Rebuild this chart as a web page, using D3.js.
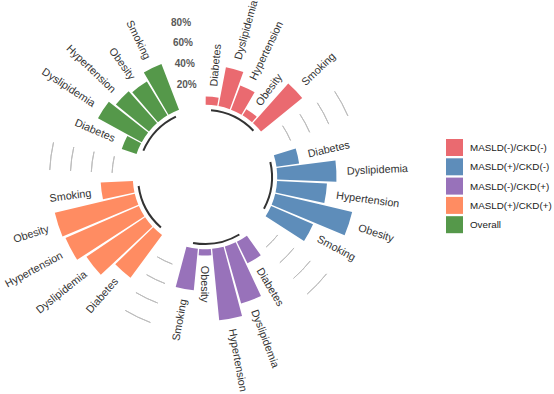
<!DOCTYPE html>
<meta charset="utf-8">
<title>Circular barplot</title>
<script src="https://d3js.org/d3.v7.min.js"></script>
<style>
    body { margin: 0; background: #fff; }
    text { font-family: "Liberation Sans", Arial, sans-serif; }
</style>
<body>
<div id="chart"></div>
<script>
    // groups (legend order) and the risk factors inside each group
    var groups = ["MASLD(-)/CKD(-)", "MASLD(+)/CKD(-)", "MASLD(-)/CKD(+)", "MASLD(+)/CKD(+)", "Overall"];
    var factors = ["Diabetes", "Dyslipidemia", "Hypertension", "Obesity", "Smoking"];
    var colors = ["#EA6A70", "#5E8DBA", "#9872BA", "#FF8C62", "#55984A"];

    // prevalence (%) per factor, one array per group
    var negNeg = [8, 38, 25, 7, 51];
    var posNeg = [22, 57, 48, 76, 44];
    var negPos = [23, 57, 69, 6, 40];
    var posPos = [51, 68, 77, 79, 31];
    var overall = [15, 48, 41, 38, 47];
    var values = [negNeg, posNeg, negPos, posPos, overall];

    var gridTicks = [20, 40, 60, 80];
    var emptyBar = 2;

    var width = 554, height = 394;
    var cx = 205, cy = 177;

    var svg = d3.select("#chart")
        .append("svg")
        .attr("width", width)
        .attr("height", height);

    var g = svg.append("g")
        .attr("transform", "translate(" + cx + "," + cy + ")");

    // build rows with ids, leaving empty slots after each group
    var data = [];
    var base = [];
    var id = 1;
    groups.forEach(function(grp, gi) {
        var start = id;
        factors.forEach(function(f, fi) {
            data.push({id: id, group: gi, name: f, value: values[gi][fi]});
            id++;
        });
        base.push({group: gi, start: start, end: id - 1});
        id += emptyBar;
    });
    var N = id - 1;

    var theta = d3.scaleLinear().domain([0.5, N + 0.5]).range([0, 2 * Math.PI]);
    var r = d3.scaleLinear().domain([0, 100]).range([72.2, 176.2]);

    // grid segments in the gaps (none between last and first group)
    var grid = [];
    for (var i = 1; i < base.length; i++) {
        gridTicks.forEach(function(t) {
            grid.push({from: base[i - 1].end + 1, to: base[i].start - 1, v: t});
        });
    }
    var segArc = d3.arc();
    g.selectAll(".grid")
        .data(grid)
        .enter()
        .append("path")
        .attr("d", function(d) {
            return segArc({innerRadius: r(d.v), outerRadius: r(d.v),
                startAngle: theta(d.from), endAngle: theta(d.to)});
        })
        .style("fill", "none")
        .style("stroke", "#bdbdbd")
        .style("stroke-width", 1);

    // bars
    var barArc = d3.arc();
    g.selectAll(".bar")
        .data(data)
        .enter()
        .append("path")
        .attr("d", function(d) {
            return barArc({innerRadius: r(0), outerRadius: r(d.value),
                startAngle: theta(d.id - 0.45), endAngle: theta(d.id + 0.45)});
        })
        .style("fill", function(d) { return colors[d.group]; });

    // base line under each group
    g.selectAll(".base")
        .data(base)
        .enter()
        .append("path")
        .attr("d", function(d) {
            return segArc({innerRadius: r(-5), outerRadius: r(-5),
                startAngle: theta(d.start), endAngle: theta(d.end)});
        })
        .style("fill", "none")
        .style("stroke", "#333")
        .style("stroke-width", 2);

    // factor labels
    g.selectAll(".label")
        .data(data)
        .enter()
        .append("text")
        .attr("transform", function(d) {
            var a = theta(d.id), rr = r(d.value + 10);
            var deg = a * 180 / Math.PI;
            var rot = deg > 180 ? deg - 270 : deg - 90;
            return "translate(" + (rr * Math.sin(a)) + "," + (-rr * Math.cos(a)) + ") rotate(" + rot + ")";
        })
        .attr("text-anchor", function(d) { return theta(d.id) * 180 / Math.PI > 180 ? "end" : "start"; })
        .attr("dominant-baseline", "central")
        .style("font-size", "10.8px")
        .style("fill", "#333")
        .text(function(d) { return d.name; });

    // value labels of the grid
    g.selectAll(".tick")
        .data(gridTicks)
        .enter()
        .append("text")
        .attr("x", function(d) { return r(d) * Math.sin(theta(N)); })
        .attr("y", function(d) { return -r(d) * Math.cos(theta(N)); })
        .attr("text-anchor", "end")
        .attr("dominant-baseline", "central")
        .style("font-size", "10px")
        .style("font-weight", "bold")
        .style("fill", "#595959")
        .text(function(d) { return d + "%"; });

    // legend
    var legend = svg.append("g")
        .attr("transform", "translate(446,139)");
    var item = legend.selectAll(".item")
        .data(groups)
        .enter()
        .append("g")
        .attr("transform", function(d, i) { return "translate(0," + (i * 19.3) + ")"; });
    item.append("rect")
        .attr("width", 17)
        .attr("height", 17)
        .style("fill", function(d, i) { return colors[i]; });
    item.append("text")
        .attr("x", 24)
        .attr("y", 8.5)
        .attr("dominant-baseline", "central")
        .style("font-size", "9.8px")
        .style("fill", "#222")
        .text(function(d) { return d; });
</script>
</body>
